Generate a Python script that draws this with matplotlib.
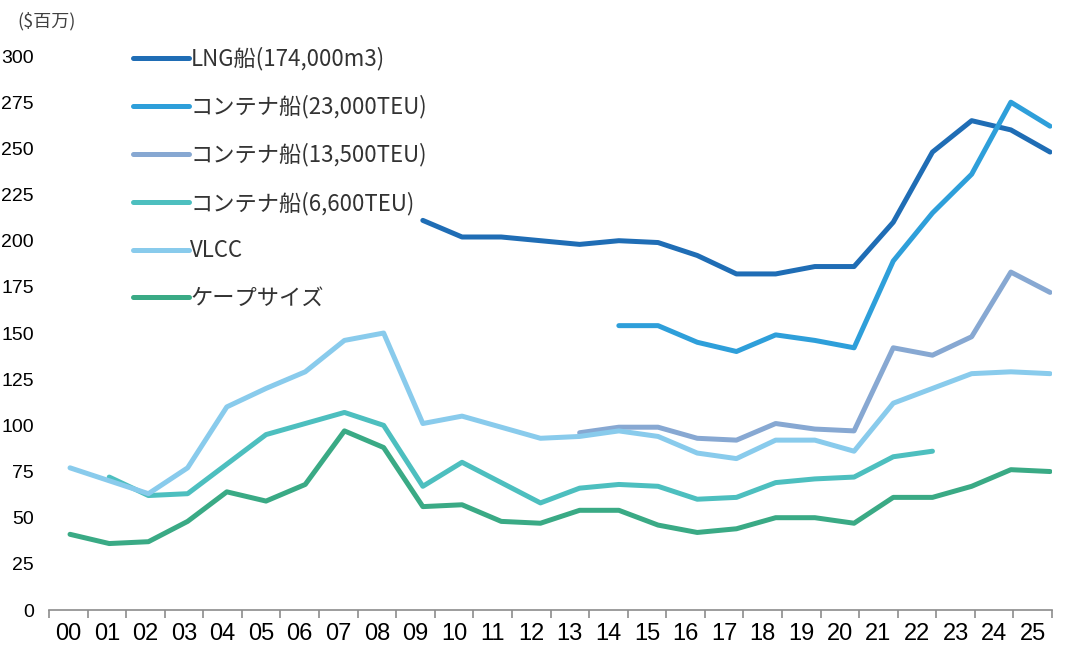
import numpy as np
import matplotlib
matplotlib.use("Agg")
import matplotlib.pyplot as plt

years = ["00", "01", "02", "03", "04", "05", "06", "07", "08", "09", "10", "11", "12",
         "13", "14", "15", "16", "17", "18", "19", "20", "21", "22", "23", "24", "25"]

# prices in $ million, None where the series has no data
lng = [None] * 9 + [211, 202, 202, 200, 198, 200, 199, 192, 182, 182, 186, 186,
                    210, 248, 265, 260, 248]
teu23000 = [None] * 14 + [154, 154, 145, 140, 149, 146, 142, 189, 215, 236, 275, 262]
teu13500 = [None] * 13 + [96, 99, 99, 93, 92, 101, 98, 97, 142, 138, 148, 183, 172]
teu6600 = [None, 72, 62, 63, 79, 95, 101, 107, 100, 67, 80, 69, 58, 66, 68, 67, 60,
           61, 69, 71, 72, 83, 86, None, None, None]
vlcc = [77, 70, 63, 77, 110, 120, 129, 146, 150, 101, 105, 99, 93, 94, 97, 94, 85, 82,
        92, 92, 86, 112, 120, 128, 129, 128]
cape = [41, 36, 37, 48, 64, 59, 68, 97, 88, 56, 57, 48, 47, 54, 54, 46, 42, 44, 50, 50,
        47, 61, 61, 67, 76, 75]

labels = ["LNG船(174,000m3)", "コンテナ船(23,000TEU)", "コンテナ船(13,500TEU)",
          "コンテナ船(6,600TEU)", "VLCC", "ケープサイズ"]
colors = ["#1f6db5", "#2e9fda", "#87a8d2", "#4dbfbf", "#89cbec", "#3aaa85"]
series = [lng, teu23000, teu13500, teu6600, vlcc, cape]

fig = plt.figure(figsize=(10.7, 6.5), dpi=100)
ax = fig.add_axes([0.0458, 0.0615, 0.9374, 0.8523])

x = np.arange(len(years))
for vals, lab, col in zip(series, labels, colors):
    y = np.array([np.nan if v is None else v for v in vals], dtype=float)
    ax.plot(x, y, color=col, lw=3.6, label=lab, solid_capstyle="round",
            solid_joinstyle="round")

# category axis: lines run slightly wider than the label cells (as in the source)
x0, x1 = -0.536, 25.05
ax.set_xlim(x0, x1)
ax.set_ylim(0, 300)
edges = np.linspace(x0, x1, len(years) + 1)
ax.set_xticks(edges)
ax.set_xticklabels([])
ax.set_xticks(0.5 * (edges[:-1] + edges[1:]), minor=True)
ax.set_xticklabels(years, minor=True, fontsize=17, family="Liberation Sans")
ax.tick_params(axis="x", which="major", length=6, color="#8c8c8c", width=1.2)
ax.tick_params(axis="x", which="minor", length=0, pad=9)

ax.set_yticks(np.arange(0, 301, 25))
ax.tick_params(axis="y", length=0, pad=11, labelsize=14)
for t in ax.get_yticklabels():
    t.set_family("Liberation Sans")

for s in ["left", "right", "top"]:
    ax.spines[s].set_visible(False)
ax.spines["bottom"].set_color("#8c8c8c")
ax.spines["bottom"].set_linewidth(1.2)

fig.text(0.016, 0.968, "($百万)", fontsize=13, color="#404040",
         family=["Noto Sans CJK JP", "DejaVu Sans"], va="center")

leg = ax.legend(loc="upper left", bbox_to_anchor=(113 / 1070, 1 - 27 / 650),
                bbox_transform=fig.transFigure, frameon=False,
                prop={"family": ["Noto Sans CJK JP", "DejaVu Sans"], "size": 16},
                handlelength=2.5, handletextpad=0.08, labelspacing=1.1)
for t in leg.get_texts():
    t.set_color("#333333")

fig.savefig("out.png", dpi=100)
